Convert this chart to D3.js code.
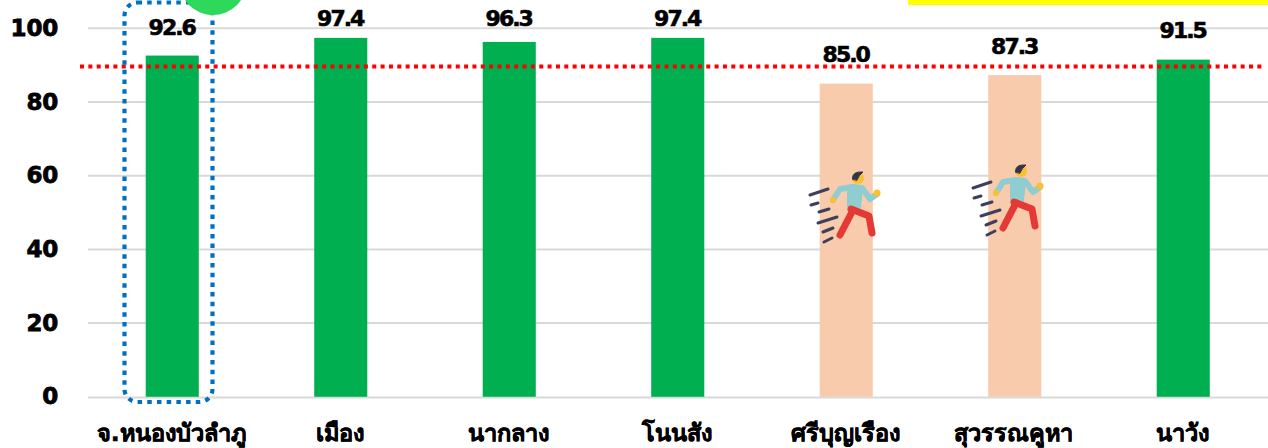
<!DOCTYPE html>
<html><head><meta charset="utf-8">
<script src="https://cdnjs.cloudflare.com/ajax/libs/d3/7.8.5/d3.min.js"></script>
<style>html,body{margin:0;padding:0;background:#fff;overflow:hidden}svg{display:block}text{font-family:"DejaVu Sans","Noto Sans",sans-serif;font-weight:700;fill:#000}</style>
</head><body><svg id="c" width="1268" height="448"></svg>
<script>
const categories=["จ.หนองบัวลำภู","เมือง","นากลาง","โนนสัง","ศรีบุญเรือง","สุวรรณคูหา","นาวัง"];
const values=[92.6,97.4,96.3,97.4,85.0,87.3,91.5];
const valueLabels=["92.6","97.4","96.3","97.4","85.0","87.3","91.5"];
const yTicks=[0,20,40,60,80,100];
const target=89.6;
const belowTarget=["ศรีบุญเรือง","สุวรรณคูหา"];
const GREEN="#00b050",PEACH="#f8cbad";
const labelLift=[21,12,16,12,21.5,21,21.5];

const svg=d3.select("#c");
const x=d3.scaleBand().domain(categories).range([88,1267.5]).paddingInner(0.685).paddingOuter(0.3425);
const y=d3.scaleLinear().domain([0,100]).range([396.8,28.3]);

svg.append("g").selectAll("line").data(yTicks).join("line")
  .attr("x1",88).attr("x2",1268).attr("y1",d=>y(d)+(d===0?0.8:0)).attr("y2",d=>y(d)+(d===0?0.8:0))
  .attr("stroke","#d9d9d9").attr("stroke-width",2);

svg.append("g").selectAll("text").data(yTicks).join("text")
  .attr("x",58).attr("y",d=>y(d)+7.5).attr("text-anchor","end")
  .style("font-size","23px").style("letter-spacing","-0.2px")
  .attr("stroke","#000").attr("stroke-width",0.8).text(d=>d);

svg.append("g").selectAll("rect").data(categories).join("rect")
  .attr("x",d=>x(d)).attr("width",x.bandwidth())
  .attr("y",(d,i)=>y(values[i])).attr("height",(d,i)=>y(0)-y(values[i]))
  .attr("fill",d=>belowTarget.includes(d)?PEACH:GREEN);

svg.append("g").selectAll("text").data(categories).join("text")
  .attr("x",d=>x(d)+x.bandwidth()/2-0.5).attr("y",(d,i)=>y(values[i])-labelLift[i])
  .attr("text-anchor","middle").style("font-size","22px").style("letter-spacing","-2px")
  .attr("stroke","#000").attr("stroke-width",0.6)
  .text((d,i)=>valueLabels[i]);

svg.append("g").selectAll("text").data(categories).join("text")
  .attr("x",d=>x(d)+x.bandwidth()/2-1).attr("y",441)
  .attr("text-anchor","middle").style("font-size","23.5px")
  .attr("stroke","#000").attr("stroke-width",0.5).text(d=>d);

svg.append("line").attr("x1",80).attr("x2",1264).attr("y1",y(target)).attr("y2",y(target))
  .attr("stroke","#ff0000").attr("stroke-width",4).attr("stroke-dasharray","4 4.35");

svg.append("rect").attr("x",124.5).attr("y",2.5).attr("width",88).attr("height",399.5).attr("rx",13)
  .attr("fill","none").attr("stroke","#0070c0").attr("stroke-width",4.2).attr("stroke-dasharray","4.5 5.2");
svg.append("circle").attr("cx",213).attr("cy",-18.6).attr("r",33.6).attr("fill","#2ed85a");
svg.append("rect").attr("x",908).attr("y",0).attr("width",360).attr("height",5).attr("fill","#ffff00");

function runner(cat,i){
  const g=svg.append("g").attr("transform",`translate(${i?163:0},${i?-7:0})`)
    .attr("fill","none").attr("stroke-linecap","round").attr("stroke-linejoin","round");
  const dark="#3f3f5c";
  [[810,195,828,189],[811,205,818,203],[819,212,829,209],[818,223,837,217],[823,232,833,228],[824,242,832,238]]
    .forEach(s=>g.append("line").attr("x1",s[0]).attr("y1",s[1]).attr("x2",s[2]).attr("y2",s[3]).attr("stroke",dark).attr("stroke-width",3));
  g.append("path").attr("d","M833 200L840 189L853 187L862 188L870 199L877 194").attr("stroke","#8fcdd0").attr("stroke-width",6);
  g.append("path").attr("d","M848 187L862 188L860 208L848 207Z").attr("fill","#8fcdd0").attr("stroke","#8fcdd0").attr("stroke-width",2);
  g.append("path").attr("d","M853 210L840 235").attr("stroke","#e53935").attr("stroke-width",7);
  g.append("path").attr("d","M851 209L869 216L872 233").attr("stroke","#e53935").attr("stroke-width",7);
  g.append("circle").attr("cx",858).attr("cy",178).attr("r",6).attr("fill","#fbc02d");
  g.append("path").attr("d","M852.5 179Q852 171 863 172Q859 175 857 180Z").attr("fill","#33334d").attr("stroke","#33334d").attr("stroke-width",1);
  g.append("circle").attr("cx",833).attr("cy",200).attr("r",3).attr("fill","#fbc02d");
  g.append("circle").attr("cx",877).attr("cy",193).attr("r",3.5).attr("fill","#fbc02d");
}
belowTarget.forEach(runner);
</script></body></html>
